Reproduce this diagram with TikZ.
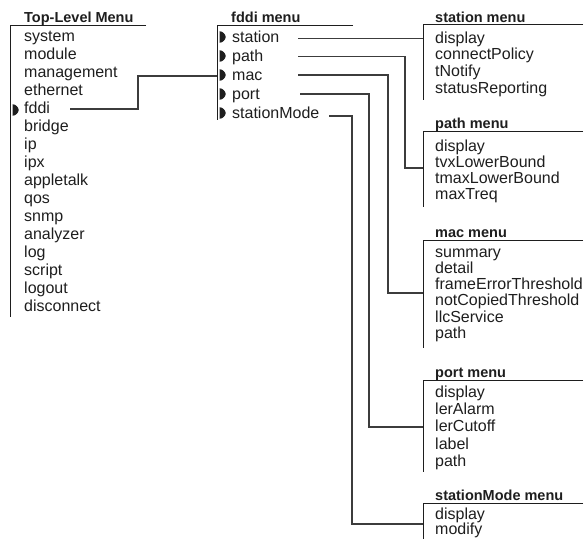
\documentclass[tikz,border=0pt]{standalone}
\usepackage{fontspec}
\usetikzlibrary{calc}
\setmainfont{Liberation Sans}
\definecolor{ink}{HTML}{1E1E1E}
\definecolor{wire}{HTML}{3C3C3C}
\newcommand{\wgap}{\hspace{4pt}}
\begin{document}
\begin{tikzpicture}[x=1pt,y=-1pt,
  item/.style={anchor=base west, inner sep=0pt, text=ink,
    font=\fontsize{16}{18}\selectfont},
  heading/.style={anchor=base west, inner sep=0pt, text=ink,
    font=\fontsize{14.5}{16}\selectfont\bfseries},
  frame/.style={draw=ink, line width=0.9pt},
  link/.style={draw=wire, line width=1.1pt},
  pointer/.style={fill=ink, draw=none}
]
\useasboundingbox (0,0) rectangle (586,538);

% marker glyph: flat left edge, rounded point to the right
\def\marker#1{%
  \fill[pointer] ($(#1)+(0,-5.8)$) -- ($(#1)+(0,5.8)$)
    .. controls ($(#1)+(3.4,5.8)$) and ($(#1)+(6.2,2.3)$) .. ($(#1)+(6.2,0)$)
    .. controls ($(#1)+(6.2,-2.3)$) and ($(#1)+(3.4,-5.8)$) .. cycle;}

% ---------------- Top-Level Menu ----------------
\node[heading] (top-title) at (24,22) {Top-Level\wgap Menu};
\coordinate (top-nw) at (10,25);
\draw[frame] (146,25) -- (top-nw) -- (10,317);
\foreach \t [count=\i from 0] in {system,module,management,ethernet,fddi,bridge,ip,ipx,appletalk,qos,snmp,analyzer,log,script,logout,disconnect}
  \node[item] (top-\t) at (24,41+18*\i) {\t};

% ---------------- fddi menu ----------------
\node[heading] (fddi-title) at (231,22) {fddi\wgap menu};
\coordinate (fddi-nw) at (217,25);
\draw[frame] (353,25) -- (fddi-nw) -- (217,120);
\foreach \t [count=\i from 0] in {station,path,mac,port,stationMode}
  \node[item] (fddi-\t) at (232,42+19*\i) {\t};

% ---------------- station menu ----------------
\node[heading] (station-title) at (435,22) {station\wgap menu};
\draw[frame] (583,24) -- (423,24) -- (423,100);
\foreach \t [count=\i from 0] in {display,connectPolicy,tNotify,statusReporting}
  \node[item] (station-\t) at (435,43+16.8*\i) {\t};

% ---------------- path menu ----------------
\node[heading] (path-title) at (435,128) {path\wgap menu};
\draw[frame] (583,131) -- (423,131) -- (423,207);
\foreach \t [count=\i from 0] in {display,tvxLowerBound,tmaxLowerBound,maxTreq}
  \node[item] (path-\t) at (435,151+16.2*\i) {\t};

% ---------------- mac menu ----------------
\node[heading] (mac-title) at (435,237) {mac\wgap menu};
\draw[frame] (583,240) -- (423,240) -- (423,348);
\foreach \t [count=\i from 0] in {summary,detail,frameErrorThreshold,notCopiedThreshold,llcService,path}
  \node[item] (mac-\t) at (435,257+16.3*\i) {\t};

% ---------------- port menu ----------------
\node[heading] (port-title) at (435,377) {port\wgap menu};
\draw[frame] (583,380) -- (423,380) -- (423,472);
\foreach \t [count=\i from 0] in {display,lerAlarm,lerCutoff,label,path}
  \node[item] (port-\t) at (435,397+17.4*\i) {\t};

% ---------------- stationMode menu ----------------
\node[heading] (mode-title) at (435,500) {stationMode\wgap menu};
\draw[frame] (583,503) -- (423,503) -- (423,540);
\foreach \t [count=\i from 0] in {display,modify}
  \node[item] (mode-\t) at (435,519+15.5*\i) {\t};

% ---------------- selection markers ----------------
\coordinate (m-top) at (12.5,110);
\marker{m-top}
\foreach \y in {37,56,75,94,113} {
  \coordinate (m-fddi) at (219.5,\y);
  \marker{m-fddi}
}

% ---------------- connectors ----------------
\coordinate (s-fddi) at (70,109);
\coordinate (k-fddi) at (138,76);
\coordinate (t-fddi) at (217,76);
\draw[link] (s-fddi) -| (k-fddi) -- (t-fddi);

\coordinate (s-station) at (298,38.5);
\coordinate (t-station) at (423,38.5);
\draw[link] (s-station) -- (t-station);

\coordinate (s-path) at (298,56.5);
\coordinate (k-path) at (405,168);
\coordinate (t-path) at (423,168);
\draw[link] (s-path) -| (k-path) -- (t-path);

\coordinate (s-mac) at (298,75);
\coordinate (k-mac) at (388,293);
\coordinate (t-mac) at (423,293);
\draw[link] (s-mac) -| (k-mac) -- (t-mac);

\coordinate (s-port) at (300,94);
\coordinate (k-port) at (369,427);
\coordinate (t-port) at (423,427);
\draw[link] (s-port) -| (k-port) -- (t-port);

\coordinate (s-mode) at (329,116);
\coordinate (k-mode) at (352,524);
\coordinate (t-mode) at (423,524);
\draw[link] (s-mode) -| (k-mode) -- (t-mode);
\end{tikzpicture}
\end{document}
